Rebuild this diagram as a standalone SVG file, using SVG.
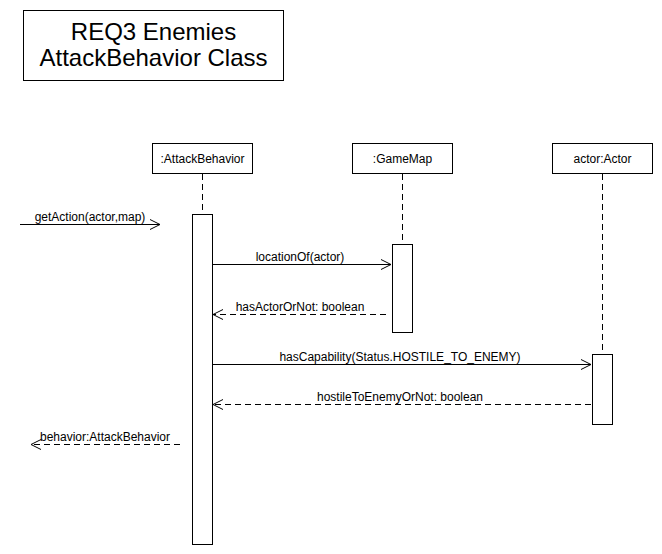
<svg xmlns="http://www.w3.org/2000/svg" width="662" height="554" viewBox="0 0 662 554">
<style>
.box{fill:#fff;stroke:#000;stroke-width:1}
.life{stroke:#000;stroke-width:1;stroke-dasharray:6 4;fill:none}
.msg{stroke:#000;stroke-width:1;fill:none}
.ret{stroke:#000;stroke-width:1;fill:none;stroke-dasharray:6 4}
.t{font-family:"Liberation Sans",Arial,sans-serif;font-size:12px;fill:#000;text-anchor:middle}
.title{font-family:"Liberation Sans",Arial,sans-serif;font-size:24px;fill:#000;text-anchor:middle}
.ah{stroke:#000;stroke-width:1;fill:none}
</style>
<rect width="662" height="554" fill="#fff"/>
<g id="title">
<rect class="box" x="23.5" y="10.5" width="260" height="70"/>
<text class="title" x="153.5" y="40">REQ3 Enemies</text>
<text class="title" x="153.5" y="66">AttackBehavior Class</text>
</g>
<g id="attackBehavior">
<rect class="box" x="152.5" y="143.5" width="100" height="30"/>
<text class="t" x="202.5" y="163">:AttackBehavior</text>
<line class="life" x1="202.5" y1="174" x2="202.5" y2="214"/>
<rect class="box" x="192.5" y="214.5" width="20" height="330"/>
</g>
<g id="gameMap">
<rect class="box" x="352.5" y="143.5" width="100" height="30"/>
<text class="t" x="402.5" y="163">:GameMap</text>
<line class="life" x1="402.5" y1="174" x2="402.5" y2="244"/>
<rect class="box" x="392.5" y="244.5" width="20" height="88"/>
</g>
<g id="actor">
<rect class="box" x="552.5" y="143.5" width="100" height="30"/>
<text class="t" x="602.5" y="163">actor:Actor</text>
<line class="life" x1="602.5" y1="174" x2="602.5" y2="354"/>
<rect class="box" x="592.5" y="354.5" width="20" height="70"/>
</g>
<g id="connectors">
<line class="msg" x1="20" y1="224.5" x2="160" y2="224.5"/>
<polyline class="ah" points="150,219.5 160,224.5 150,229.5"/>
<text class="t" x="90" y="221">getAction(actor,map)</text>

<line class="msg" x1="212.5" y1="264.5" x2="391" y2="264.5"/>
<polyline class="ah" points="381,259.5 391,264.5 381,269.5"/>
<text class="t" x="300" y="261">locationOf(actor)</text>

<line class="ret" x1="386" y1="314.5" x2="213" y2="314.5"/>
<polyline class="ah" points="223,309.5 213,314.5 223,319.5"/>
<text class="t" x="300" y="311">hasActorOrNot: boolean</text>

<line class="msg" x1="212.5" y1="364.5" x2="591" y2="364.5"/>
<polyline class="ah" points="581,359.5 591,364.5 581,369.5"/>
<text class="t" x="400" y="361">hasCapability(Status.HOSTILE_TO_ENEMY)</text>

<line class="ret" x1="591" y1="404.5" x2="213" y2="404.5"/>
<polyline class="ah" points="223,399.5 213,404.5 223,409.5"/>
<text class="t" x="400" y="401">hostileToEnemyOrNot: boolean</text>

<line class="ret" x1="180" y1="444.5" x2="31" y2="444.5"/>
<polyline class="ah" points="41,439.5 31,444.5 41,449.5"/>
<text class="t" x="105" y="441">behavior:AttackBehavior</text>
</g>
</svg>
